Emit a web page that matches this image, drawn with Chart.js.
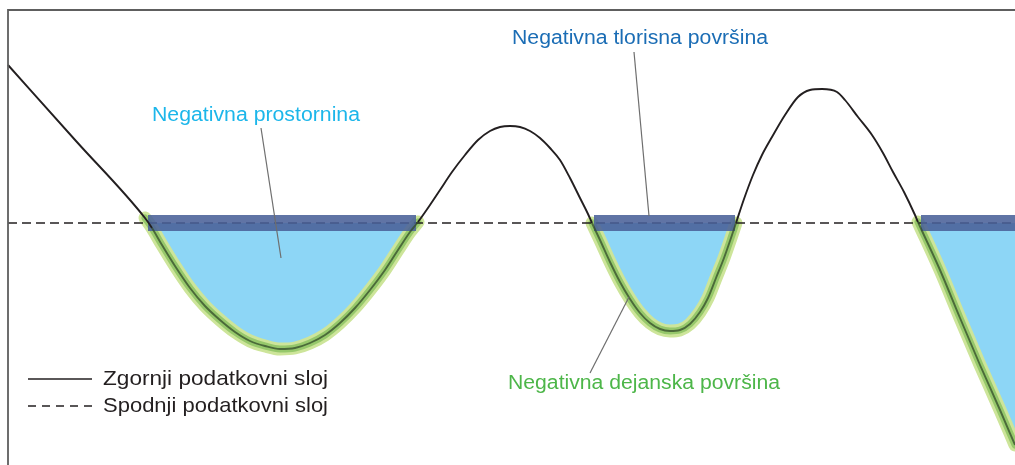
<!DOCTYPE html>
<html>
<head>
<meta charset="utf-8">
<script src="https://cdn.jsdelivr.net/npm/chart.js@4/dist/chart.umd.min.js"></script>
<style>
html,body{margin:0;padding:0;background:#fff;}
#wrap{width:1015px;height:465px;}
</style>
</head>
<body>
<div id="wrap"><canvas id="c" width="1015" height="465"></canvas></div>
<script>
// Upper data layer (solid curve)
const upperX = [8,76,145,152,162,175,190,205,220,235,250,265,280,295,310,325,340,355,370,385,398,410,418,
  430,440,452,465,478,490,500,510,520,530,540,550,560,570,580,588,592,
  600,610,620,630,640,650,660,670,680,690,700,708,716,724,731,736,
  744,753,762,772,785,798,810,822,837,845,858,872,883,893,904,915,918,
  940,960,980,1000,1015];
const upperY = [65,141,218,228,245,266,288,306,320,332,341,346,349,348,343,335,323,308,290,270,250,232,222,
  205,190,172,155,140,131,127,126,127,131,138,148,160,178,198,214,223,
  240,262,282,299,313,323,329,331,330,324,312,298,278,258,238,223,
  199,175,155,137,115,97,90,89,92,100,117,135,153,172,192,215,222,
  270,318,365,410,445];
// Lower data layer (dashed level)
const lowerLevel = 223;
// Negative regions (x ranges where upper layer is below lower layer)
const negStart = [145,592,918];
const negEnd = [418,736,1015];
// Footprint bars (negative plan area)
const barStart = [148,594,921];
const barEnd = [416,735,1015];
// Annotation labels
const labelTexts = ['Negativna prostornina','Negativna tlorisna površina','Negativna dejanska površina'];
const labelX = [152,512,508];
const labelY = [115,38,383];
const labelColors = ['#1cb6ea','#1b6db5','#4db649'];
// Leader lines
const leaderFromX = [261,634,590];
const leaderFromY = [128,52,373];
const leaderToX = [281,649,629];
const leaderToY = [258,216,297];
// Legend
const legendTexts = ['Zgornji podatkovni sloj','Spodnji podatkovni sloj'];
const legendY = [379,406];

// text widths (style) as measured in the reference
const labelWidths = [208,256,272];
const legendWidths = [225,225];

const upper = upperX.map((x,i)=>({x, y: upperY[i]}));
const datasets = [];

negStart.forEach((s,k)=>{
  const pts = upper.filter(p=>p.x>=s && p.x<=negEnd[k]);
  datasets.push({data: pts, borderWidth:0, pointRadius:0, fill:{value: lowerLevel},
    backgroundColor:'#8dd6f6', cubicInterpolationMode:'monotone', order:20});
  datasets.push({data: pts, borderWidth:13, borderColor:'#cde59a', pointRadius:0, fill:false,
    borderCapStyle:'round', borderJoinStyle:'round', cubicInterpolationMode:'monotone', order:19});
  datasets.push({data: pts, borderWidth:7, borderColor:'#96c86b', pointRadius:0, fill:false,
    borderCapStyle:'round', borderJoinStyle:'round', cubicInterpolationMode:'monotone', order:18});
});
datasets.push({data:[{x:8,y:lowerLevel},{x:1015,y:lowerLevel}], borderColor:'#231f20', borderWidth:1.6,
  borderDash:[9,5], pointRadius:0, fill:false, order:15});
barStart.forEach((s,k)=>{
  datasets.push({data:[{x:s,y:lowerLevel},{x:barEnd[k],y:lowerLevel}], borderColor:'rgba(74,97,152,0.88)',
    borderWidth:16, borderCapStyle:'butt', pointRadius:0, fill:false, order:14});
});
datasets.push({data: upper, borderColor:'#231f20', borderWidth:1.9, pointRadius:0, fill:false,
  cubicInterpolationMode:'monotone', borderJoinStyle:'round', order:13,
  segment:{borderColor: c => (c.p0.parsed.y>=221 && c.p1.parsed.y>=221) ? 'rgba(50,75,40,0.75)' : '#231f20'}});
datasets.push({data:[{x:8,y:465},{x:8,y:10},{x:1015,y:10}], borderColor:'#5e5e5e', borderWidth:1.8,
  pointRadius:0, fill:false, order:12});
leaderFromX.forEach((x,k)=>{
  datasets.push({data:[{x,y:leaderFromY[k]},{x:leaderToX[k],y:leaderToY[k]}], borderColor:'#6e6e6e',
    borderWidth:1.2, pointRadius:0, fill:false, order:11});
});
datasets.push({data:[{x:28,y:legendY[0]},{x:92,y:legendY[0]}], borderColor:'#231f20', borderWidth:1.6, pointRadius:0, fill:false, order:10});
datasets.push({data:[{x:28,y:legendY[1]},{x:92,y:legendY[1]}], borderColor:'#231f20', borderWidth:1.6, borderDash:[8,6], pointRadius:0, fill:false, order:10});

function drawStretched(ctx, t, px, py, w){
  const m = ctx.measureText(t).width;
  const sx = w / m;
  ctx.save();
  ctx.translate(px, py);
  ctx.scale(sx, 1);
  ctx.fillText(t, 0, 0);
  ctx.restore();
}

const textPlugin = {
  id:'texts',
  afterDraw(chart){
    const {ctx, scales:{x,y}} = chart;
    ctx.save();
    ctx.textBaseline = 'middle';
    ctx.textAlign = 'left';
    ctx.font = '20px "Liberation Sans", Arial, sans-serif';
    labelTexts.forEach((t,i)=>{
      ctx.fillStyle = labelColors[i];
      drawStretched(ctx, t, x.getPixelForValue(labelX[i]), y.getPixelForValue(labelY[i]), labelWidths[i]);
    });
    ctx.font = '21px "Liberation Sans", Arial, sans-serif';
    ctx.fillStyle = '#231f20';
    legendTexts.forEach((t,i)=>{
      drawStretched(ctx, t, x.getPixelForValue(103), y.getPixelForValue(legendY[i]), legendWidths[i]);
    });
    ctx.restore();
  }
};

new Chart(document.getElementById('c'), {
  type:'line',
  data:{datasets},
  options:{
    responsive:false, animation:false, clip:false,
    layout:{padding:0},
    plugins:{legend:{display:false}, tooltip:{enabled:false}},
    scales:{
      x:{type:'linear', min:0, max:1015, display:false},
      y:{type:'linear', min:0, max:465, reverse:true, display:false}
    }
  },
  plugins:[textPlugin]
});
</script>
</body>
</html>
